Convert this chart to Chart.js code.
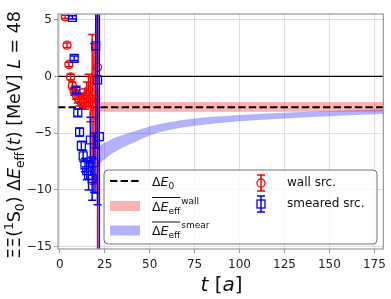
<!DOCTYPE html>
<html>
<head>
<meta charset="utf-8">
<script src="https://cdn.jsdelivr.net/npm/chart.js@4.4.1/dist/chart.umd.min.js"></script>
<style>
  html, body { margin: 0; padding: 0; background: #fff; }
  #wrap { width: 391px; height: 299px; position: relative; }
</style>
</head>
<body>
<div id="wrap"><canvas id="chart"></canvas></div>
<script>
const FONT = '"DejaVu Sans", sans-serif';

// wall source effective energy shift (MeV) and errors
const wallT = [3, 4, 5, 6, 7, 8, 9, 10, 11, 12, 13, 14, 15, 16, 17, 18, 19, 20, 21];
const wallE = [5.25, 2.75, 1.05, -0.05, -0.8, -1.3, -1.6, -1.9, -2.1, -2.3, -2.2, -2.0, -1.6, -1.2, -2.0, -2.5, -3.3, -2.0, 0.8];
const wallErr = [0.15, 0.2, 0.2, 0.25, 0.3, 0.35, 0.4, 0.45, 0.5, 0.6, 0.7, 0.9, 1.1, 1.4, 2.0, 6.2, 6.2, 8.3, 30];

// smeared source
const smearT = [7, 8, 9, 10, 11, 12, 13, 14, 15, 16, 17, 18, 19, 20, 21, 22];
const smearE = [5.2, 1.6, -1.2, -3.2, -4.9, -6.1, -7.0, -7.8, -8.3, -8.7, -5.6, -9.0, -7.6, 2.7, -0.3, -5.3];
const smearErr = [0.15, 0.2, 0.25, 0.3, 0.35, 0.4, 0.5, 0.6, 0.8, 1.3, 2.0, 1.9, 2.6, 9, 11, 30];

// fitted bands
const wallBandT = [21, 180];
const wallBandLo = [-3.1, -3.1];
const wallBandHi = [-2.25, -2.25];
const smearBandT = [22, 25, 30, 35, 40, 50, 60, 75, 100, 125, 150, 180];
const smearBandLo = [-7.7, -7.3, -6.7, -6.25, -5.9, -5.2, -4.75, -4.35, -3.95, -3.7, -3.5, -3.3];
const smearBandHi = [-6.1, -5.85, -5.45, -5.15, -4.9, -4.4, -4.05, -3.7, -3.4, -3.2, -3.05, -2.9];

// horizontal reference lines
const lineT = [-1, 180];
const dE0 = -2.72;

const xTicks = [0, 25, 50, 75, 100, 125, 150, 175];
const yTicks = [-15, -10, -5, 0, 5];

const pts = (xs, ys) => xs.map((x, i) => ({ x: x, y: ys[i] }));

function font(r) {
  return (r.it ? 'italic ' : '') + r.s + 'px ' + FONT;
}

// draw a row of text runs (sub/superscripts), returns x positions of run starts
function rich(ctx, runs, x, y, center) {
  let w = 0;
  runs.forEach(r => { ctx.font = font(r); r.w = ctx.measureText(r.t).width; w += r.w; });
  let cx = center ? x - w / 2 : x;
  const pos = [];
  runs.forEach(r => {
    ctx.font = font(r);
    pos.push(cx);
    ctx.fillText(r.t, cx, y + (r.dy || 0));
    cx += r.w;
  });
  pos.push(cx);
  return pos;
}

const errorBars = {
  id: 'errorBars',
  beforeDatasetDraw(chart, args) {
    const ds = chart.data.datasets[args.index];
    if (!ds.errs) return;
    const { ctx, chartArea: a, scales: { x, y } } = chart;
    ctx.save();
    ctx.beginPath();
    ctx.rect(a.left, a.top, a.right - a.left, a.bottom - a.top);
    ctx.clip();
    ctx.strokeStyle = ds.borderColor;
    ctx.lineWidth = 1.5;
    ds.data.forEach((p, i) => {
      const px = x.getPixelForValue(p.x);
      const y1 = y.getPixelForValue(p.y + ds.errs[i]);
      const y2 = y.getPixelForValue(p.y - ds.errs[i]);
      ctx.beginPath();
      ctx.moveTo(px, y1); ctx.lineTo(px, y2);
      ctx.moveTo(px - 4, y1); ctx.lineTo(px + 4, y1);
      ctx.moveTo(px - 4, y2); ctx.lineTo(px + 4, y2);
      ctx.stroke();
    });
    ctx.restore();
  }
};

const decorations = {
  id: 'decorations',
  afterDatasetsDraw(chart) {
    const { ctx, chartArea: a } = chart;
    ctx.save();
    ctx.strokeStyle = '#999';
    ctx.lineWidth = 1.2;
    ctx.strokeRect(a.left, a.top, a.right - a.left, a.bottom - a.top);
    ctx.restore();
  },
  afterDraw(chart) {
    const { ctx } = chart;
    ctx.save();
    ctx.fillStyle = '#111';
    ctx.textBaseline = 'alphabetic';

    // y axis title
    ctx.save();
    ctx.translate(20, 135);
    ctx.rotate(-Math.PI / 2);
    const S = 17.5, s = 12.25;
    rich(ctx, [
      { t: 'ΞΞ(', s: S }, { t: '1', s: s, dy: -7 }, { t: 'S', s: S }, { t: '0', s: s, dy: 4 },
      { t: ') Δ', s: S }, { t: 'E', s: S, it: true }, { t: 'eff', s: s, dy: 4 },
      { t: '(', s: S }, { t: 't', s: S, it: true }, { t: ') [MeV] ', s: S },
      { t: 'L', s: S, it: true }, { t: ' = 48', s: S }
    ], 0, 0, true);
    ctx.restore();

    // x axis title
    rich(ctx, [
      { t: 't', s: 20, it: true }, { t: ' [', s: 20 }, { t: 'a', s: 20, it: true }, { t: ']', s: 20 }
    ], 221.5, 291, true);

    // legend frame
    const lx = 104, ly = 170, lw = 273, lh = 74;
    ctx.beginPath();
    ctx.roundRect(lx, ly, lw, lh, 4);
    ctx.fillStyle = 'rgba(255,255,255,0.8)';
    ctx.fill();
    ctx.strokeStyle = 'rgba(0,0,0,0.55)';
    ctx.lineWidth = 1;
    ctx.stroke();

    // dashed handle
    ctx.strokeStyle = '#000';
    ctx.lineWidth = 2;
    ctx.setLineDash([7.4, 3.2]);
    ctx.beginPath(); ctx.moveTo(110, 181); ctx.lineTo(140, 181); ctx.stroke();
    ctx.setLineDash([]);
    // band handles
    ctx.fillStyle = 'rgba(255,0,0,0.3)';
    ctx.fillRect(110, 201, 30, 10);
    ctx.fillStyle = 'rgba(0,0,255,0.3)';
    ctx.fillRect(110, 225.5, 30, 10);

    ctx.fillStyle = '#111';
    const B = 12.5, b = 9;
    rich(ctx, [{ t: 'Δ', s: B }, { t: 'E', s: B, it: true }, { t: '0', s: b, dy: 3 }], 152, 185.5);
    let p = rich(ctx, [{ t: 'Δ', s: B }, { t: 'E', s: B, it: true }, { t: 'eff', s: b, dy: 3 }], 152, 210.5);
    ctx.fillRect(p[0], 197, p[3] - p[0], 1);
    ctx.font = b + 'px ' + FONT;
    ctx.fillText('wall', p[3] + 1, 203.5);
    p = rich(ctx, [{ t: 'Δ', s: B }, { t: 'E', s: B, it: true }, { t: 'eff', s: b, dy: 3 }], 152, 235);
    ctx.fillRect(p[0], 221.5, p[3] - p[0], 1);
    ctx.font = b + 'px ' + FONT;
    ctx.fillText('smear', p[3] + 1, 228);

    // errorbar handles
    ctx.lineWidth = 1.5;
    ctx.strokeStyle = 'red';
    ctx.beginPath();
    ctx.moveTo(261, 175); ctx.lineTo(261, 191);
    ctx.moveTo(257, 175); ctx.lineTo(265, 175);
    ctx.moveTo(257, 191); ctx.lineTo(265, 191);
    ctx.stroke();
    ctx.lineWidth = 1.3;
    ctx.beginPath(); ctx.arc(261, 183, 4, 0, Math.PI * 2); ctx.stroke();
    ctx.lineWidth = 1.5;
    ctx.strokeStyle = 'blue';
    ctx.beginPath();
    ctx.moveTo(261, 196); ctx.lineTo(261, 212);
    ctx.moveTo(257, 196); ctx.lineTo(265, 196);
    ctx.moveTo(257, 212); ctx.lineTo(265, 212);
    ctx.stroke();
    ctx.lineWidth = 1.3;
    ctx.strokeRect(257, 200, 8, 8);

    ctx.fillStyle = '#111';
    ctx.font = '12px ' + FONT;
    ctx.textBaseline = 'middle';
    ctx.fillText('wall src.', 287, 183);
    ctx.fillText('smeared src.', 287, 204);
    ctx.restore();
  }
};

new Chart(document.getElementById('chart'), {
  type: 'scatter',
  data: {
    datasets: [
      {
        data: pts(smearBandT, smearBandLo),
        showLine: true, borderWidth: 0, pointRadius: 0, fill: false,
        cubicInterpolationMode: 'monotone', order: 10
      },
      {
        data: pts(smearBandT, smearBandHi),
        showLine: true, borderWidth: 0, pointRadius: 0, fill: '-1',
        backgroundColor: 'rgba(0,0,255,0.3)', cubicInterpolationMode: 'monotone', order: 10
      },
      {
        data: pts(wallBandT, wallBandLo),
        showLine: true, borderWidth: 0, pointRadius: 0, fill: false, order: 9
      },
      {
        data: pts(wallBandT, wallBandHi),
        showLine: true, borderWidth: 0, pointRadius: 0, fill: '-1',
        backgroundColor: 'rgba(255,0,0,0.3)', order: 9
      },
      {
        data: pts(lineT, [0, 0]),
        showLine: true, borderColor: '#000', borderWidth: 1.2, pointRadius: 0, order: 5
      },
      {
        data: pts(lineT, [dE0, dE0]),
        showLine: true, borderColor: '#000', borderWidth: 2, borderDash: [7.4, 3.2],
        pointRadius: 0, order: 4
      },
      {
        data: pts(wallT, wallE), errs: wallErr,
        pointStyle: 'circle', pointRadius: 4, borderColor: 'red', borderWidth: 1.3,
        backgroundColor: 'rgba(0,0,0,0)', order: 2
      },
      {
        data: pts(smearT, smearE), errs: smearErr,
        pointStyle: 'rect', pointRadius: 5.6, borderColor: 'blue', borderWidth: 1.3,
        backgroundColor: 'rgba(0,0,0,0)', order: 1
      }
    ]
  },
  options: {
    responsive: true,
    maintainAspectRatio: false,
    animation: false,
    layout: { padding: { top: 14, right: 6, left: 0, bottom: 0 } },
    datasets: { scatter: { clip: 0 } },
    plugins: { legend: { display: false }, tooltip: { enabled: false } },
    scales: {
      x: {
        type: 'linear', min: -1, max: 180,
        afterBuildTicks: sc => { sc.ticks = xTicks.map(v => ({ value: v })); },
        afterFit: sc => { sc.height = 50; },
        ticks: { font: { family: FONT, size: 12 }, color: '#222', padding: 5 },
        grid: { color: '#dedede', tickColor: '#999', tickLength: 4 },
        border: { display: false }
      },
      y: {
        type: 'linear', min: -15.2, max: 5.5,
        afterBuildTicks: sc => { sc.ticks = yTicks.map(v => ({ value: v })); },
        afterFit: sc => { sc.width = 58; },
        ticks: {
          font: { family: FONT, size: 12 }, color: '#222', padding: 2,
          callback: v => (v < 0 ? '\u2212' + Math.abs(v) : String(v))
        },
        grid: { color: '#dedede', tickColor: '#999', tickLength: 4 },
        border: { display: false }
      }
    }
  },
  plugins: [errorBars, decorations]
});
</script>
</body>
</html>
